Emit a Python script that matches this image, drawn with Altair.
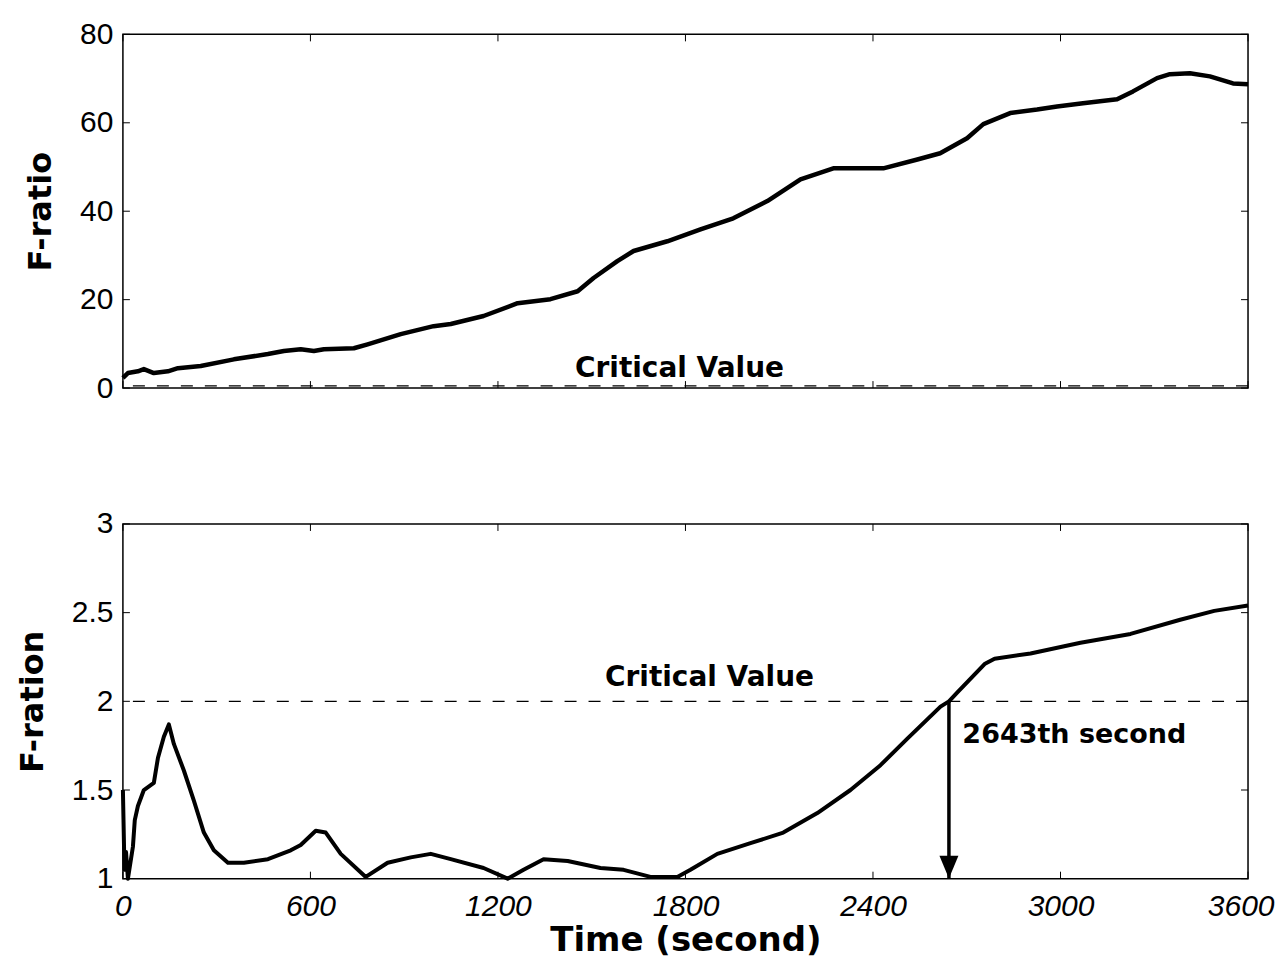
import altair as alt
import pandas as pd

# ---------------- data ----------------
top_t = [0, 16, 48, 67, 99, 144, 176, 249, 355, 464, 515, 569, 611, 643, 739, 783, 889, 994,
         1049, 1154, 1263, 1368, 1455, 1506, 1582, 1634, 1742, 1848, 1953, 2062, 2168, 2273,
         2433, 2542, 2615, 2701, 2753, 2839, 2925, 2989, 3072, 3181, 3232, 3309, 3350, 3414,
         3478, 3552, 3600]
top_f = [2.3, 3.4, 3.8, 4.3, 3.4, 3.8, 4.5, 5.0, 6.5, 7.7, 8.4, 8.8, 8.4, 8.8, 9.0, 9.9, 12.2, 14.0,
         14.5, 16.3, 19.2, 20.1, 21.9, 24.9, 28.7, 31.0, 33.2, 35.9, 38.4, 42.3, 47.2, 49.7,
         49.7, 51.7, 53.1, 56.5, 59.7, 62.2, 63.0, 63.7, 64.4, 65.3, 67.1, 70.1, 71.0, 71.2,
         70.5, 68.9, 68.7]

bot_t = [0, 5, 10, 16, 32, 38, 48, 67, 99, 112, 131, 147, 163, 195, 227, 259, 291, 336, 387,
         464, 537, 569, 617, 649, 697, 777, 847, 921, 985, 1049, 1154, 1231, 1282, 1346, 1423,
         1528, 1602, 1688, 1774, 1816, 1902, 2008, 2113, 2222, 2328, 2424, 2510, 2616, 2643,
         2670, 2757, 2789, 2904, 3064, 3224, 3383, 3492, 3600]
bot_f = [1.50, 1.05, 1.15, 1.00, 1.18, 1.33, 1.41, 1.50, 1.54, 1.68, 1.80, 1.87, 1.76, 1.61,
         1.44, 1.26, 1.16, 1.09, 1.09, 1.11, 1.16, 1.19, 1.27, 1.26, 1.14, 1.01, 1.09, 1.12,
         1.14, 1.11, 1.06, 1.00, 1.05, 1.11, 1.10, 1.06, 1.05, 1.01, 1.01, 1.05, 1.14, 1.20,
         1.26, 1.37, 1.50, 1.64, 1.79, 1.97, 2.00, 2.05, 2.21, 2.24, 2.27, 2.33, 2.38, 2.46,
         2.51, 2.54]

x_ticks = [0, 600, 1200, 1800, 2400, 3000, 3600]
top_y_ticks = [0, 20, 40, 60, 80]
bot_y_ticks = [1, 1.5, 2, 2.5, 3]

top_critical = 0.5
bot_critical = 2.0
crossing_time = 2643

top_crit_label = {"t": 1781, "f": 4.2, "text": "Critical Value"}
bot_crit_label = {"t": 1877, "f": 2.13, "text": "Critical Value"}
cross_label = {"t": 2686, "f": 1.81, "text": "2643th second"}

# ---------------- layout constants ----------------
W = 1126
H_TOP = 354
H_BOT = 355
TICK = 7
LABEL_FONT = "Liberation Sans"
BOLD_FONT = "DejaVu Sans"

x_dom = [0, 3600]
top_dom = [0, 80]
bot_dom = [1, 3]

xs_scale = alt.Scale(domain=x_dom, nice=False, zero=False)
top_scale = alt.Scale(domain=top_dom, nice=False, zero=False)
bot_scale = alt.Scale(domain=bot_dom, nice=False, zero=False)

LBL = "'' + datum.value"
LAST_TEST = "datum.value >= %d" % x_dom[1]
top_x_axis = None
top_y_axis = alt.Axis(values=top_y_ticks, title="F-ratio", titlePadding=22, labelPadding=10,
                      labelExpr=LBL)
bot_x_axis = alt.Axis(values=x_ticks, title="Time (second)", labelExpr=LBL, labelPadding=13,
                      titlePadding=2, labelFontStyle="italic", labelFlush=False,
                      labelAlign={"condition": {"test": LAST_TEST, "value": "right"},
                                  "value": "center"},
                      labelOffset={"condition": {"test": LAST_TEST, "value": 26}, "value": 0})
bot_y_axis = alt.Axis(values=bot_y_ticks, title="F-ration", titlePadding=22, labelPadding=10,
                      labelExpr=LBL)


def X(field, axis):
    return alt.X(field, scale=xs_scale, axis=axis, title=None if axis is None else axis.title)


def Y(field, scale, axis):
    return alt.Y(field, scale=scale, axis=axis, title=axis.title)


def tick_layers(y_ticks, y_scale, y_axis, x_axis, h):
    ydf = pd.DataFrame({"f": y_ticks})
    xdf = pd.DataFrame({"t": x_ticks})
    st = dict(color="black", strokeWidth=1)
    left = alt.Chart(ydf).mark_rule(**st).encode(
        y=Y("f:Q", y_scale, y_axis), x=alt.value(0), x2=alt.value(TICK))
    right = alt.Chart(ydf).mark_rule(**st).encode(
        y=Y("f:Q", y_scale, y_axis), x=alt.value(W - TICK), x2=alt.value(W))
    topk = alt.Chart(xdf).mark_rule(**st).encode(
        x=X("t:Q", x_axis), y=alt.value(0), y2=alt.value(TICK))
    botk = alt.Chart(xdf).mark_rule(**st).encode(
        x=X("t:Q", x_axis), y=alt.value(h - TICK), y2=alt.value(h))
    return [left, right, topk, botk]


# ---------------- top panel ----------------
top_df = pd.DataFrame({"t": top_t, "f": top_f})

top_line = alt.Chart(top_df).mark_line(color="black", strokeWidth=4.5, strokeJoin="round").encode(
    x=X("t:Q", top_x_axis), y=Y("f:Q", top_scale, top_y_axis))
top_crit = alt.Chart(pd.DataFrame({"f": [top_critical]})).mark_rule(
    color="black", strokeWidth=1.2, strokeDash=[12, 12]).encode(
    y=Y("f:Q", top_scale, top_y_axis))
top_text = alt.Chart(pd.DataFrame([top_crit_label])).mark_text(
    font=BOLD_FONT, fontWeight="bold", fontSize=28, align="center", baseline="middle",
    color="black").encode(
    x=X("t:Q", top_x_axis), y=Y("f:Q", top_scale, top_y_axis), text="text:N")

top_panel = alt.layer(top_line, top_crit, top_text,
                      *tick_layers(top_y_ticks, top_scale, top_y_axis, top_x_axis, H_TOP)).properties(
    width=W, height=H_TOP)

# ---------------- bottom panel ----------------
bot_df = pd.DataFrame({"t": bot_t, "f": bot_f})

bot_line = alt.Chart(bot_df).mark_line(color="black", strokeWidth=4, strokeJoin="round").encode(
    x=X("t:Q", bot_x_axis), y=Y("f:Q", bot_scale, bot_y_axis))
bot_crit = alt.Chart(pd.DataFrame({"f": [bot_critical]})).mark_rule(
    color="black", strokeWidth=1.2, strokeDash=[12, 12]).encode(
    y=Y("f:Q", bot_scale, bot_y_axis))
bot_text = alt.Chart(pd.DataFrame([bot_crit_label])).mark_text(
    font=BOLD_FONT, fontWeight="bold", fontSize=28, align="center", baseline="middle",
    color="black").encode(
    x=X("t:Q", bot_x_axis), y=Y("f:Q", bot_scale, bot_y_axis), text="text:N")
cross_text = alt.Chart(pd.DataFrame([cross_label])).mark_text(
    font=BOLD_FONT, fontWeight="bold", fontSize=27, align="left", baseline="middle",
    color="black").encode(
    x=X("t:Q", bot_x_axis), y=Y("f:Q", bot_scale, bot_y_axis), text="text:N")

arrow_df = pd.DataFrame({"t": [crossing_time], "f": [bot_critical], "f0": [bot_dom[0]]})
arrow_shaft = alt.Chart(arrow_df).mark_rule(color="black", strokeWidth=3.5).encode(
    x=X("t:Q", bot_x_axis), y=Y("f:Q", bot_scale, bot_y_axis), y2=alt.Y2("f0:Q"))
arrow_head = alt.Chart(arrow_df).mark_point(
    shape="M-1,-1.2L1,-1.2L0,1.2Z", size=361, filled=True, color="black", opacity=1,
    yOffset=-11.5).encode(
    x=X("t:Q", bot_x_axis), y=Y("f0:Q", bot_scale, bot_y_axis))

bot_panel = alt.layer(bot_line, bot_crit, bot_text, cross_text, arrow_shaft, arrow_head,
                      *tick_layers(bot_y_ticks, bot_scale, bot_y_axis, bot_x_axis, H_BOT)).properties(
    width=W, height=H_BOT)

chart = alt.vconcat(top_panel, bot_panel, spacing=104).properties(
    padding={"left": 7, "top": 10, "right": 0, "bottom": 0},
    background="white",
).configure_view(
    stroke="black", strokeWidth=1.5
).configure_axis(
    grid=False, domain=False, ticks=False,
    labelFont=LABEL_FONT, labelFontSize=30, labelColor="black",
    titleFont=BOLD_FONT, titleFontWeight="bold", titleFontSize=32, titleColor="black",
).configure_axisX(
    titleFontSize=34,
)

chart.save("out.html", embed_options={"renderer": "svg", "actions": False})
